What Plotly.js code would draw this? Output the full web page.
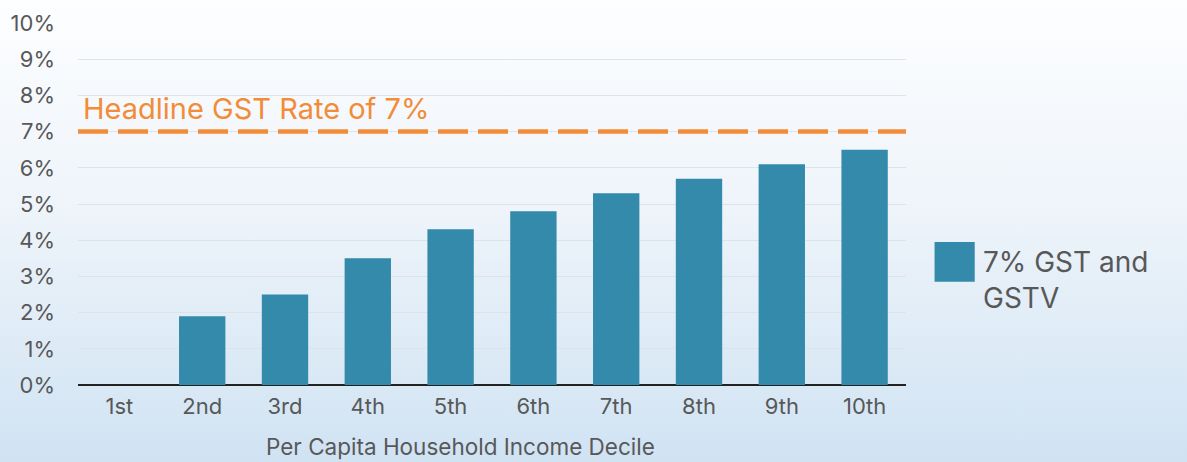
<!DOCTYPE html>
<html><head><meta charset="utf-8">
<script src="https://cdn.plot.ly/plotly-3.0.1.min.js"></script>
<style>
html,body{margin:0;padding:0;}
body{width:1187px;height:462px;background:linear-gradient(to bottom,#fdfeff 0%,#eef4fa 45%,#d0e3f3 100%);}
#chart{width:1187px;height:462px;}
</style></head><body>
<div id="chart"></div>
<script>
const categories = ["1st","2nd","3rd","4th","5th","6th","7th","8th","9th","10th"];
const gstValues = [0, 1.9, 2.5, 3.5, 4.3, 4.8, 5.3, 5.7, 6.1, 6.5];
const seriesName = "7% GST and<br>GSTV";
const headlineRate = 7;
const headlineLabel = "Headline GST Rate of 7%";
const yTickVals = [0,1,2,3,4,5,6,7,8,9,10];
const yTickText = yTickVals.map(v => v + "%");
const xTitle = "Per Capita Household Income Decile";

const font = "Inter, 'Open Sans', sans-serif";
const txt = "#585858";
const trace = {
  type: "bar", x: categories, y: gstValues, name: seriesName,
  marker: {color: "#348aaa", line: {width: 0}},
  hoverinfo: "x+y", showlegend: false
};
const layout = {
  width: 1187, height: 462,
  margin: {l: 78, r: 281, t: 23, b: 77},
  paper_bgcolor: "rgba(0,0,0,0)", plot_bgcolor: "rgba(0,0,0,0)",
  font: {family: font, color: txt, size: 22},
  bargap: 0.44,
  showlegend: false,
  xaxis: {
    type: "category", showgrid: false, zeroline: false, showline: false,
    ticks: "", tickfont: {size: 22, color: txt}, ticklabelstandoff: 6
  },
  yaxis: {
    range: [0, 10], tickvals: yTickVals, ticktext: yTickText,
    showgrid: true, gridcolor: "#dde3ea", gridwidth: 1,
    zeroline: true, zerolinecolor: "#222", zerolinewidth: 2,
    showline: false, ticks: "", ticklabelstandoff: 22,
    tickfont: {size: 22, color: txt}
  },
  shapes: [
    {type: "line", xref: "paper", yref: "y", x0: 0, x1: 1, y0: headlineRate, y1: headlineRate,
     line: {color: "#f28c38", width: 4.5, dash: "30px,10px"}},
    {type: "rect", xref: "paper", yref: "paper", x0: 1.0345, x1: 1.083, y0: 0.285, y1: 0.395,
     fillcolor: "#348aaa", line: {width: 0}}
  ],
  annotations: [
    {xref: "paper", yref: "y", x: 0.004, y: headlineRate, xanchor: "left", yanchor: "bottom", yshift: 4,
     text: headlineLabel, showarrow: false, font: {size: 29, color: "#f28c38", family: font}},
    {xref: "paper", yref: "paper", x: 1.09, y: 0.29, xanchor: "left", yanchor: "middle",
     text: seriesName, align: "left", showarrow: false, font: {size: 28, color: txt, family: font}},
    {xref: "paper", yref: "paper", x: 0.462, y: 0, yshift: -61, xanchor: "center", yanchor: "middle",
     text: xTitle, showarrow: false, font: {size: 22.5, color: txt, family: font}}
  ]
};
Plotly.newPlot("chart", [trace], layout, {displayModeBar: false, staticPlot: true});
</script>
</body></html>
